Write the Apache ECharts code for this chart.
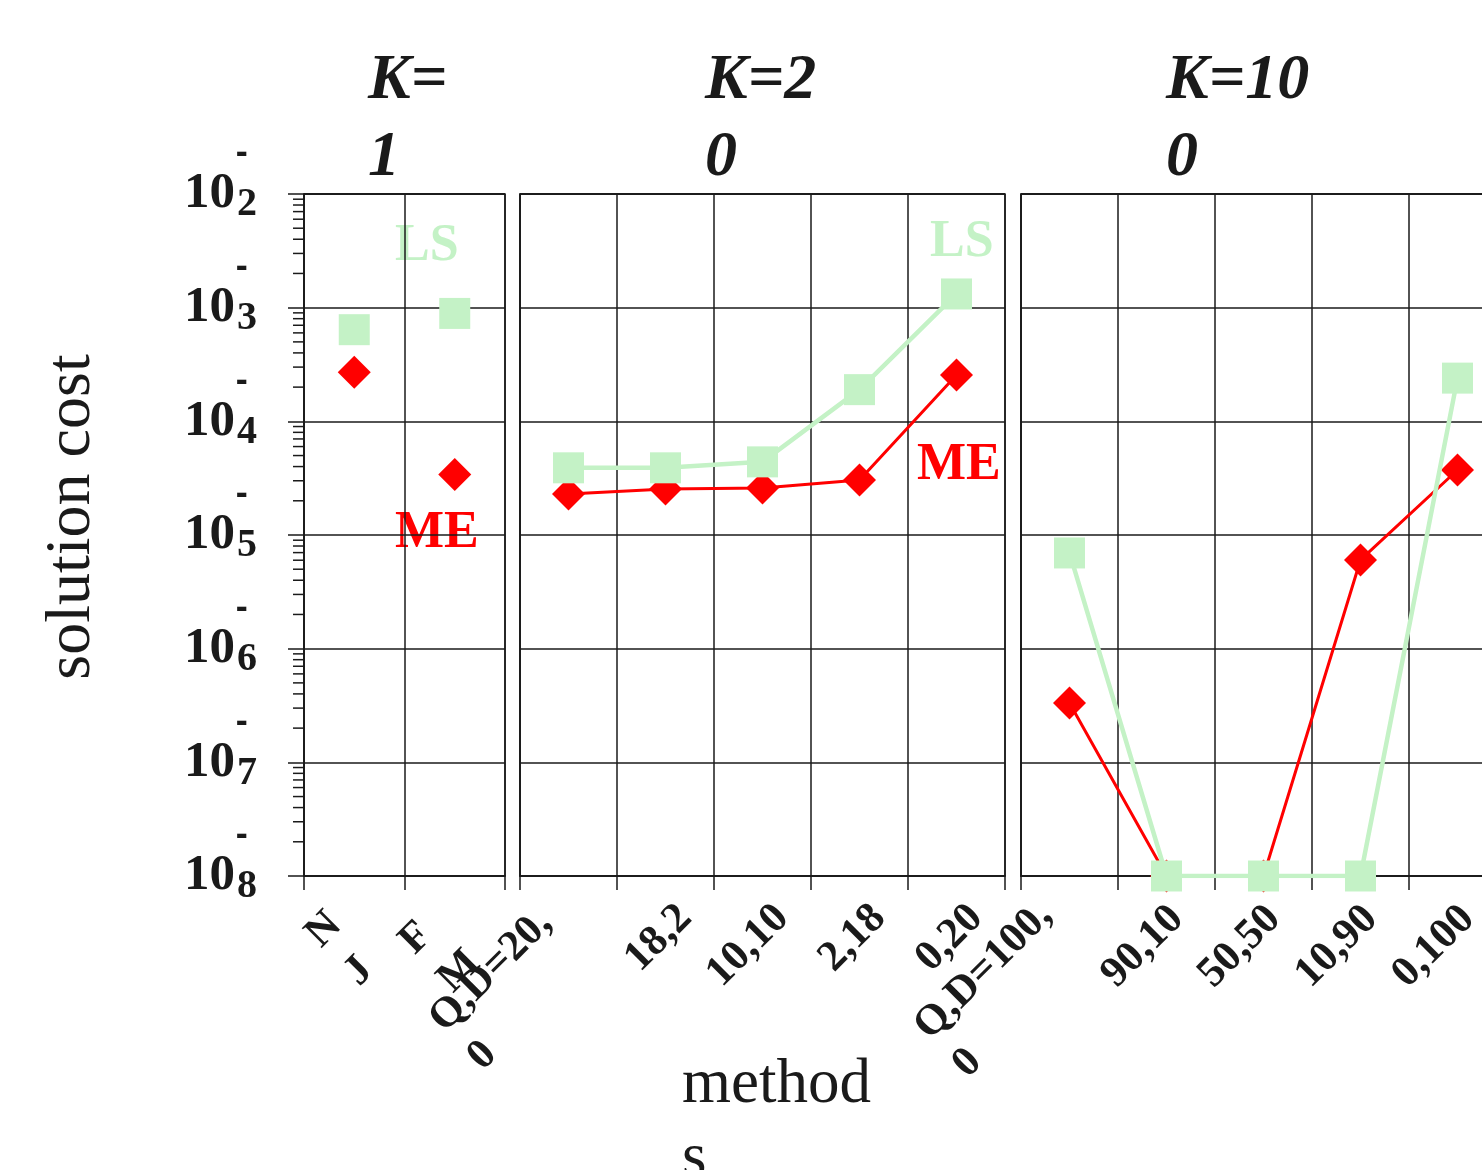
<!DOCTYPE html>
<html><head><meta charset="utf-8">
<script src="https://cdn.jsdelivr.net/npm/echarts@6/dist/echarts.min.js"></script>
<style>html,body{margin:0;padding:0;background:#fff}#c{width:1482px;height:1170px}</style>
</head><body><div id="c"></div>
<script>
// ---- data ----
const categoriesK1 = ['N\nJ', 'F\nM'];
const categoriesK20 = ['Q,D=20,\n0', '18,2', '10,10', '2,18', '0,20'];
const categoriesK100 = ['Q,D=100,\n0', '90,10', '50,50', '10,90', '0,100'];
const lsK1 = [6.4e-4, 8.9e-4];
const meK1 = [2.7e-4, 3.4e-5];
const lsK20 = [3.9e-5, 3.9e-5, 4.4e-5, 1.9e-4, 1.32e-3];
const meK20 = [2.3e-5, 2.54e-5, 2.59e-5, 3.05e-5, 2.56e-4];
const lsK100 = [6.95e-6, 1e-8, 1e-8, 1e-8, 2.4e-4];
const meK100 = [3.33e-7, 1e-8, 1e-8, 6.03e-6, 3.73e-5];
const panelTitles = ['K=\n1', 'K=2\n0', 'K=10\n0'];
const yMin = 1e-8, yMax = 1e-2;
const minorMultipliers = [2, 3, 4, 5, 6, 7, 8, 9];
const decadeExponents = [-8, -7, -6, -5, -4, -3];

// ---- style ----
const SERIF = '"Liberation Serif","DejaVu Serif",serif';
const GREEN = '#c4f2c6', RED = '#ff0000', INK = '#1a1a1a';

const minorTickValues = [];
decadeExponents.forEach(e => minorMultipliers.forEach(m => minorTickValues.push(m * Math.pow(10, e))));

const chart = echarts.init(document.getElementById('c'), null, {renderer: 'canvas'});

const gridBox = [
  {left: 304, top: 194, width: 201, height: 682},
  {left: 520, top: 194, width: 485, height: 682},
  {left: 1021, top: 194, width: 485, height: 682}
];
const grids = gridBox.map(g => Object.assign({show: true, borderColor: INK, borderWidth: 1.5,
  backgroundColor: 'transparent', containLabel: false, outerBoundsMode: 'none'}, g));

const XFONT = {fontFamily: SERIF, fontWeight: 'bold', fontSize: 43, lineHeight: 54, color: INK};
function xAxisFor(i, data, margin, padTop, backShift) {
  return {
    type: 'category', gridIndex: i, data: data, boundaryGap: true,
    axisLine: {show: true, lineStyle: {color: INK, width: 1.5}},
    axisTick: {show: true, interval: 0, alignWithLabel: false, length: 14, lineStyle: {color: INK, width: 1.5}},
    splitLine: {show: true, interval: 0, lineStyle: {color: INK, width: 1.5}},
    axisLabel: Object.assign({
      show: true, interval: 0, rotate: 45, margin: margin, padding: [padTop, 0, 0, 0],
      hideOverlap: false,
      formatter: function (v) {
        const lines = String(v).split('\n');
        if (lines.length === 1) return '{s|' + v + '}';
        return lines.map((l, k) => '{' + (k === 0 ? 'f' : 'l') + '|' + l + '}').join('\n');
      },
      rich: {
        s: Object.assign({}, XFONT),
        f: Object.assign({align: 'left', padding: [0, backShift, 0, 0]}, XFONT),
        l: Object.assign({align: 'left'}, XFONT)
      }
    }, XFONT)
  };
}
function yAxisFor(i, showLabels) {
  return {
    type: 'log', logBase: 10, gridIndex: i, min: yMin, max: yMax,
    axisLine: {show: true, lineStyle: {color: INK, width: 1.5}},
    axisTick: {show: showLabels, length: 16, lineStyle: {color: INK, width: 1.5}},
    splitLine: {show: true, lineStyle: {color: INK, width: 1.5}},
    minorTick: {show: false},
    axisLabel: {
      show: showLabels, margin: 47, showMinLabel: true, showMaxLabel: true, hideOverlap: false,
      formatter: function (v) {
        const e = -Math.round(Math.log10(v));
        return '{b|10}{e|' + e + '}';
      },
      rich: {
        b: {fontFamily: SERIF, fontWeight: 'bold', fontSize: 51, lineHeight: 37, color: INK},
        e: {fontFamily: SERIF, fontWeight: 'bold', fontSize: 40, lineHeight: 15, padding: [22, 0, 0, 2], color: INK}
      }
    }
  };
}
// companion axis carrying the minus signs that sit above each exponent
const minusAxis = {
  type: 'log', logBase: 10, gridIndex: 0, min: yMin, max: yMax, position: 'left', offset: 0,
  axisLine: {show: false}, axisTick: {show: false}, splitLine: {show: false}, minorTick: {show: false},
  axisLabel: {
    show: true, margin: 56, showMinLabel: true, showMaxLabel: true, hideOverlap: false,
    verticalAlign: 'bottom', padding: [0, 0, 20, 0],
    fontFamily: '"DejaVu Sans",sans-serif', fontWeight: 'bold', fontSize: 30, lineHeight: 37, color: INK,
    formatter: function () { return '-'; }
  }
};

function markSeries(name, gi, data, isLS, withLine) {
  return {
    type: withLine ? 'line' : 'scatter', name: name, xAxisIndex: gi, yAxisIndex: gi, data: data,
    symbol: isLS ? 'rect' : 'diamond', symbolSize: isLS ? 31 : 33,
    showSymbol: true, showAllSymbol: true,
    itemStyle: {color: isLS ? GREEN : RED, opacity: 1},
    lineStyle: {color: isLS ? GREEN : RED, width: isLS ? 4.5 : 3},
    z: isLS ? 4 : 3, silent: true
  };
}

const option = {
  animation: false,
  backgroundColor: '#ffffff',
  title: [
    {text: panelTitles[0], left: 368, top: 43},
    {text: panelTitles[1], left: 705, top: 43},
    {text: panelTitles[2], left: 1166, top: 43}
  ].map(t => Object.assign(t, {padding: 0, textAlign: 'left', textStyle: {fontFamily: SERIF, fontStyle: 'italic',
      fontWeight: 'bold', fontSize: 64, lineHeight: 77, color: INK}})),
  grid: grids,
  xAxis: [xAxisFor(0, categoriesK1, 62, 0, 0), xAxisFor(1, categoriesK20, 16, 56, 34), xAxisFor(2, categoriesK100, 26, 30, 22)],
  yAxis: [yAxisFor(0, true), yAxisFor(1, false), yAxisFor(2, false), minusAxis],
  series: [
    {
      type: 'custom', name: 'minorTicks', xAxisIndex: 0, yAxisIndex: 0, clip: false, silent: true, z: 2,
      data: minorTickValues.map(v => [0, v]),
      renderItem: function (params, api) {
        const y = api.coord([0, api.value(1)])[1];
        const x0 = params.coordSys.x;
        return {type: 'line', shape: {x1: x0 - 11, y1: y, x2: x0, y2: y}, style: {stroke: INK, lineWidth: 1.5}};
      }
    },
    markSeries('ME', 0, meK1, false, false),
    markSeries('LS', 0, lsK1, true, false),
    markSeries('ME', 1, meK20, false, true),
    markSeries('LS', 1, lsK20, true, true),
    markSeries('ME', 2, meK100, false, true),
    markSeries('LS', 2, lsK100, true, true)
  ],
  graphic: [
    {type: 'text', x: 395, y: 247, style: {text: 'LS', font: 'bold 52px ' + SERIF, fill: GREEN, align: 'left', verticalAlign: 'middle'}},
    {type: 'text', x: 395, y: 534, style: {text: 'ME', font: 'bold 52px ' + SERIF, fill: RED, align: 'left', verticalAlign: 'middle'}},
    {type: 'text', x: 930, y: 243, style: {text: 'LS', font: 'bold 52px ' + SERIF, fill: GREEN, align: 'left', verticalAlign: 'middle'}},
    {type: 'text', x: 917, y: 466, style: {text: 'ME', font: 'bold 52px ' + SERIF, fill: RED, align: 'left', verticalAlign: 'middle'}},
    {type: 'text', x: 72, y: 517, rotation: Math.PI / 2, style: {text: 'solution cost', font: '64px ' + SERIF, fill: INK, align: 'center', verticalAlign: 'middle'}},
    {type: 'text', x: 682, y: 1048, style: {text: 'method\ns', font: '63px ' + SERIF, lineHeight: 74, fill: INK, align: 'left', verticalAlign: 'top'}}
  ]
};
chart.setOption(option);
</script>
</body></html>
